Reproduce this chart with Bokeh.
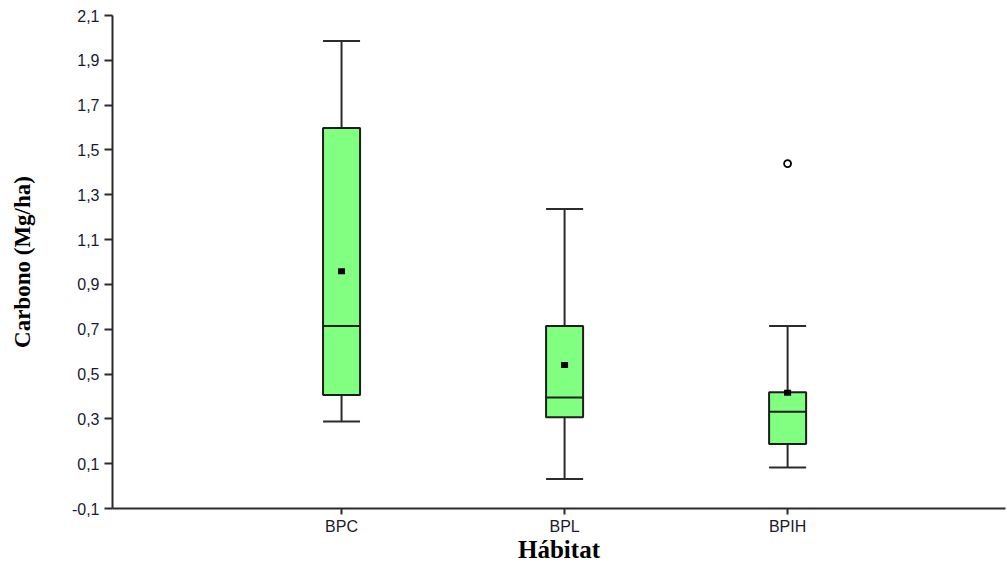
from bokeh.plotting import figure
from bokeh.models import Range1d, FixedTicker, CustomJSTickFormatter, ColumnDataSource
from bokeh.embed import file_html
from bokeh.resources import INLINE

# ---- data ----
categories = ["BPC", "BPL", "BPIH"]
positions = [1, 2, 3]
whisker_low = [0.288, 0.032, 0.083]
q1 = [0.407, 0.307, 0.188]
median = [0.714, 0.395, 0.332]
q3 = [1.598, 0.714, 0.419]
whisker_high = [1.986, 1.237, 0.714]
means = [0.959, 0.540, 0.416]
outlier_pos = [3]
outlier_val = [1.439]
y_ticks = [-0.1, 0.1, 0.3, 0.5, 0.7, 0.9, 1.1, 1.3, 1.5, 1.7, 1.9, 2.1]
x_title = "Hábitat"
y_title = "Carbono (Mg/ha)"

box_w = 0.166
line_col = "#2b2b2b"

src = ColumnDataSource(dict(
    x=positions, lo=whisker_low, q1=q1, med=median, q3=q3, hi=whisker_high, mean=means,
    xl=[v - box_w / 2 for v in positions], xr=[v + box_w / 2 for v in positions],
))

p = figure(width=1006, height=565, output_backend="svg", toolbar_location=None,
           x_range=Range1d(-0.027, 3.977), y_range=Range1d(-0.1, 2.1),
           min_border_left=112, min_border_right=1, min_border_top=15, min_border_bottom=50)
p.outline_line_color = None
p.xgrid.grid_line_color = None
p.ygrid.grid_line_color = None
p.background_fill_color = "white"

# whiskers
p.segment(x0="x", y0="q3", x1="x", y1="hi", source=src, line_color=line_col, line_width=2)
p.segment(x0="x", y0="lo", x1="x", y1="q1", source=src, line_color=line_col, line_width=2)
p.segment(x0="xl", y0="hi", x1="xr", y1="hi", source=src, line_color=line_col, line_width=2)
p.segment(x0="xl", y0="lo", x1="xr", y1="lo", source=src, line_color=line_col, line_width=2)
# boxes
p.quad(left="xl", right="xr", bottom="q1", top="q3", source=src,
       fill_color="#80ff80", line_color="#1e1e1e", line_width=2)
# medians
p.segment(x0="xl", y0="med", x1="xr", y1="med", source=src, line_color="#1e1e1e", line_width=2)
# means
p.rect(x="x", y="mean", width=7, height=6, width_units="screen", height_units="screen",
       source=src, fill_color="black", line_color=None)
# outliers
p.scatter(outlier_pos, outlier_val, marker="circle", size=7, fill_color="white",
          line_color="black", line_width=1.8)

# axes
for ax in (p.xaxis[0], p.yaxis[0]):
    ax.axis_line_color = line_col
    ax.axis_line_width = 2
    ax.major_tick_line_color = line_col
    ax.major_tick_line_width = 2
    ax.minor_tick_line_color = None
    ax.major_tick_in = 0
    ax.major_label_text_font = "Liberation Sans"
    ax.major_label_text_font_size = "16px"
    ax.major_label_text_color = "#1a1a2e"
    ax.axis_label_text_font = "Liberation Serif"
    ax.axis_label_text_font_style = "bold"
    ax.axis_label_text_color = "black"

p.yaxis.ticker = FixedTicker(ticks=y_ticks)
p.yaxis.formatter = CustomJSTickFormatter(code="return tick.toFixed(1).replace('.', ',');")
p.yaxis.major_tick_out = 8
p.yaxis.major_label_standoff = 5
p.yaxis.axis_label = y_title
p.yaxis.axis_label_text_font_size = "23px"
p.yaxis.axis_label_standoff = 34

p.xaxis.ticker = FixedTicker(ticks=positions)
p.xaxis.major_label_overrides = {pos: cat for pos, cat in zip(positions, categories)}
p.xaxis.major_tick_out = 6
p.xaxis.major_label_standoff = 3
p.xaxis.axis_label = x_title
p.xaxis.axis_label_text_font_size = "25px"
p.xaxis.axis_label_standoff = -2

open("out.html", "w").write(file_html(p, INLINE))
